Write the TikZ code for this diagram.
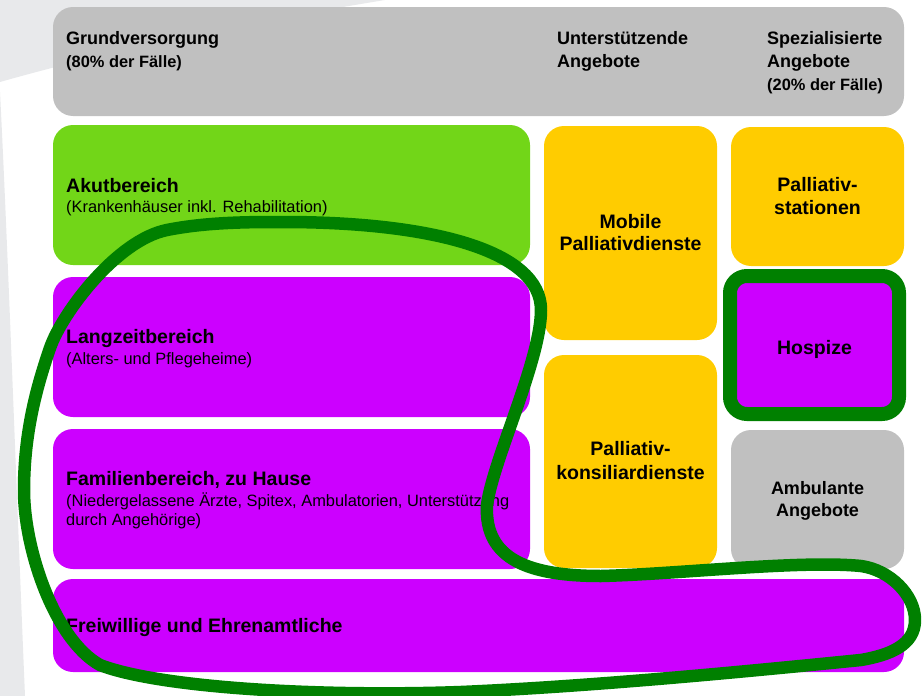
\documentclass[tikz,border=0pt]{standalone}
\usepackage{fontspec}
\setmainfont{Liberation Sans}
\begin{document}
\definecolor{boxgray}{HTML}{C0C0C0}
\definecolor{acutegreen}{HTML}{72D618}
\definecolor{violetbox}{HTML}{CC00FF}
\definecolor{amberbox}{HTML}{FFCC00}
\definecolor{loopgreen}{HTML}{008000}
\definecolor{swoosh}{HTML}{E8E9EB}
\begin{tikzpicture}[x=1pt,y=-1pt,
  box/.style={rounded corners=20pt, inner sep=0pt, outer sep=0pt},
  lbl/.style={inner sep=0pt, anchor=base west},
  clbl/.style={inner sep=0pt, anchor=base},
  ttl/.style={font=\fontsize{19.5}{23}\selectfont\bfseries},
  hd/.style={font=\fontsize{18}{22}\selectfont\bfseries},
  hdsub/.style={font=\fontsize{16.4}{20}\selectfont\bfseries},
  sub/.style={font=\fontsize{16.4}{19}\selectfont},
  marker/.style={draw=loopgreen, line width=12.5pt, line join=round}]
\useasboundingbox (0,0) rectangle (922,696);

% soft background shapes
\fill[swoosh] (0,0) -- (385,0) .. controls (250,22) and (120,48) .. (0,82) -- cycle;
\fill[swoosh] (0,92) .. controls (8,250) and (16,480) .. (25,696) -- (0,696) -- cycle;

% header band
\node[box, fill=boxgray, minimum width=851pt, minimum height=109pt] (head) at (478.5,61.5) {};
\node[lbl, hd] (h1a) at (66,45) {Grundversorgung};
\node[lbl, hdsub] (h1b) at (66,67) {(80\% der Fälle)};
\node[lbl, hd] (h2a) at (557,45) {Unterstützende};
\node[lbl, hd] (h2b) at (557,67) {Angebote};
\node[lbl, hd] (h3a) at (767,45) {Spezialisierte};
\node[lbl, hd] (h3b) at (767,67) {Angebote};
\node[lbl, hdsub] (h3c) at (767,90) {(20\% der Fälle)};

% basic care
\node[box, fill=acutegreen, minimum width=477pt, minimum height=140pt] (akut) at (291.5,195) {};
\node[lbl, ttl] (akutT) at (66,192) {Akutbereich};
\node[lbl, sub] (akutS) at (66,212) {(Krankenhäuser inkl. Rehabilitation)};

\node[box, fill=violetbox, minimum width=477pt, minimum height=140pt] (lang) at (291.5,347) {};
\node[lbl, ttl] (langT) at (66,343) {Langzeitbereich};
\node[lbl, sub] (langS) at (66,364) {(Alters- und Pflegeheime)};

\node[box, fill=violetbox, minimum width=477pt, minimum height=140pt] (fam) at (291.5,499) {};
\node[lbl, ttl] (famT) at (66,485) {Familienbereich, zu Hause};
\node[lbl, sub] (famS1) at (66,506) {(Niedergelassene Ärzte, Spitex, Ambulatorien, Unterstützung};
\node[lbl, sub] (famS2) at (66,525) {durch Angehörige)};

\node[box, fill=violetbox, minimum width=851pt, minimum height=93pt] (frei) at (478.5,625.5) {};
\node[lbl, ttl] (freiT) at (66,632) {Freiwillige und Ehrenamtliche};

% supporting services
\node[box, fill=amberbox, minimum width=173pt, minimum height=214pt] (mobil) at (630.5,233) {};
\node[clbl, ttl] (mobilA) at (630.5,228) {Mobile};
\node[clbl, ttl] (mobilB) at (630.5,250) {Palliativdienste};

\node[box, fill=amberbox, minimum width=173pt, minimum height=213pt] (konsil) at (630.5,461.5) {};
\node[clbl, ttl] (konsilA) at (630.5,455) {Palliativ-};
\node[clbl, ttl] (konsilB) at (630.5,479) {konsiliardienste};

% specialised services
\node[box, fill=amberbox, minimum width=173pt, minimum height=139pt] (stat) at (817.5,196.5) {};
\node[clbl, ttl] (statA) at (817.5,191) {Palliativ-};
\node[clbl, ttl] (statB) at (817.5,214) {stationen};

\node[box, rounded corners=17pt, fill=violetbox, draw=loopgreen, line width=14pt,
      minimum width=169pt, minimum height=138pt] (hosp) at (814.5,345) {};
\node[clbl, ttl] (hospT) at (814.5,354) {Hospize};

\node[box, fill=boxgray, minimum width=173pt, minimum height=139pt] (amb) at (817.5,499.5) {};
\node[clbl, hd] (ambA) at (817.5,494) {Ambulante};
\node[clbl, hd] (ambB) at (817.5,516) {Angebote};

% hand-drawn outline around the non-specialised settings
\draw[marker] (283,222)
  .. controls (430,222) and (541,250) .. (541,310)
  .. controls (541,360) and (493,460) .. (487,505)
  .. controls (484,560) and (530,576) .. (601,576)
  .. controls (680,574) and (800,560) .. (861,566)
  .. controls (890,570) and (915,595) .. (915,620)
  .. controls (915,645) and (890,655) .. (861,660)
  .. controls (760,670) and (600,686) .. (461,692)
  .. controls (320,697) and (160,688) .. (100,665)
  .. controls (55,640) and (24,550) .. (24,490)
  .. controls (24,430) and (38,383) .. (50,348)
  .. controls (62,313) and (117,240) .. (167,230)
  .. controls (207,222) and (250,222) .. (283,222) -- cycle;
\end{tikzpicture}
\end{document}
